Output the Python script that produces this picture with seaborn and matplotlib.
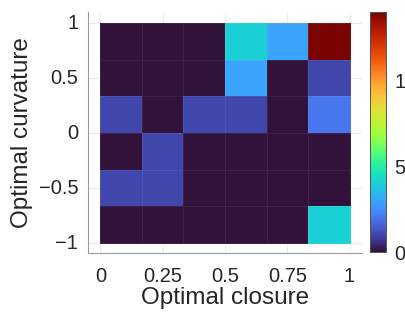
import numpy as np
import pandas as pd
import matplotlib
matplotlib.use("Agg")
import matplotlib.pyplot as plt
import seaborn as sns

# data: rows top (curvature ~1) to bottom (curvature ~-1), columns closure 0..1
closure_bins = ["0-1/6", "1/6-1/3", "1/3-1/2", "1/2-2/3", "2/3-5/6", "5/6-1"]
curvature_bins = ["2/3-1", "1/3-2/3", "0-1/3", "-1/3-0", "-2/3--1/3", "-1--2/3"]
row_top = [0, 0, 0, 4, 3, 14]
row_2 = [0, 0, 0, 3, 0, 1]
row_3 = [1, 0, 1, 1, 0, 2]
row_4 = [0, 1, 0, 0, 0, 0]
row_5 = [1, 1, 0, 0, 0, 0]
row_bottom = [0, 0, 0, 0, 0, 4]
x_ticks = [0, 0.25, 0.5, 0.75, 1]
x_tick_labels = ["0", "0.25", "0.5", "0.75", "1"]
y_ticks = [1, 0.5, 0, -0.5, -1]
y_tick_labels = ["1", "0.5", "0", "\u22120.5", "\u22121"]
cbar_ticks = [0, 5, 10]

df = pd.DataFrame([row_top, row_2, row_3, row_4, row_5, row_bottom],
                  index=curvature_bins, columns=closure_bins)

sns.set_style("white")
plt.rcParams['font.family'] = ['Liberation Sans', 'DejaVu Sans']
txt = "#262626"

fig = plt.figure(figsize=(4.06, 3.22), dpi=100)
W, H = 406, 322
ax = fig.add_axes([88 / W, (H - 253) / H, (362 - 88) / W, (253 - 12) / H])
cax = fig.add_axes([370 / W, (H - 252) / H, 16 / W, 240 / H])

sns.heatmap(df, ax=ax, cbar_ax=cax, cmap="turbo", vmin=0, vmax=14,
            linewidths=0.6, linecolor=(1, 1, 1, 0.07),
            cbar_kws={"ticks": cbar_ticks})

nx = len(closure_bins)
ny = len(curvature_bins)
ax.set_xlim(-0.05 * nx, 1.05 * nx)
ax.set_ylim((1 + 1.09) / 2 * ny, (1 - 1.1) / 2 * ny)
ax.set_xticks([u * nx for u in x_ticks])
ax.set_xticklabels(x_tick_labels, rotation=0)
ax.set_yticks([(1 - v) / 2 * ny for v in y_ticks])
ax.set_yticklabels(y_tick_labels, rotation=0)
ax.tick_params(axis="both", length=0, labelsize=14.5, colors=txt)
ax.tick_params(axis="x", pad=10)
ax.tick_params(axis="y", pad=7)
ax.set_xlabel("Optimal closure", fontsize=17.5, color=txt, labelpad=1)
ax.set_ylabel("Optimal curvature", fontsize=17.5, color=txt, labelpad=4)
ax.set_axisbelow(True)
ax.grid(True, color="#ebebeb", linewidth=0.8)
for s in ["top", "right"]:
    ax.spines[s].set_visible(False)
for s in ["left", "bottom"]:
    ax.spines[s].set_visible(True)
    ax.spines[s].set_color("#9a9a9a")
    ax.spines[s].set_linewidth(0.8)

cax.tick_params(length=0, labelsize=14.5, colors=txt, pad=6)
cax.set_yticklabels(["0", "5", "10"])
for s in cax.spines.values():
    s.set_visible(True)
    s.set_color("#555555")
    s.set_linewidth(0.6)

fig.savefig("out.png", dpi=100)
